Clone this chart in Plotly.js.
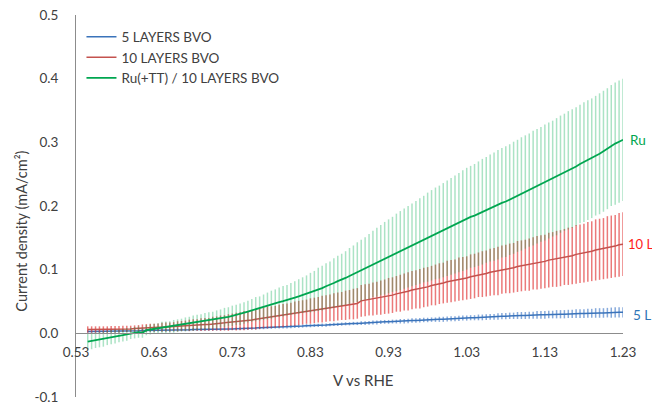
<!DOCTYPE html>
<html>
<head>
<meta charset="utf-8">
<script src="https://cdn.plot.ly/plotly-3.0.1.min.js"></script>
<style>html,body{margin:0;padding:0;background:#fff;overflow:hidden}</style>
</head>
<body>
<div id="chart" style="width:652px;height:405px"></div>
<script>
// Potential (V vs RHE)
const voltage = [
0.545,0.55,0.555,0.56,0.565,0.57,0.575,0.58,0.585,0.59,
0.595,0.6,0.605,0.61,0.615,0.62,0.625,0.63,0.635,0.64,
0.645,0.65,0.655,0.66,0.665,0.67,0.675,0.68,0.685,0.69,
0.695,0.7,0.705,0.71,0.715,0.72,0.725,0.73,0.735,0.74,
0.745,0.75,0.755,0.76,0.765,0.77,0.775,0.78,0.785,0.79,
0.795,0.8,0.805,0.81,0.815,0.82,0.825,0.83,0.835,0.84,
0.845,0.85,0.855,0.86,0.865,0.87,0.875,0.88,0.885,0.89,
0.895,0.9,0.905,0.91,0.915,0.92,0.925,0.93,0.935,0.94,
0.945,0.95,0.955,0.96,0.965,0.97,0.975,0.98,0.985,0.99,
0.995,1.0,1.005,1.01,1.015,1.02,1.025,1.03,1.035,1.04,
1.045,1.05,1.055,1.06,1.065,1.07,1.075,1.08,1.085,1.09,
1.095,1.1,1.105,1.11,1.115,1.12,1.125,1.13,1.135,1.14,
1.145,1.15,1.155,1.16,1.165,1.17,1.175,1.18,1.185,1.19,
1.195,1.2,1.205,1.21,1.215,1.22,1.225,1.23];

// 5 LAYERS BVO
const bvo5 = [
0.003,0.003,0.003,0.003,0.003,0.0035,0.0035,0.0035,0.0035,0.004,
0.004,0.004,0.004,0.004,0.0045,0.0045,0.0045,0.0045,0.005,0.005,
0.005,0.005,0.005,0.0055,0.0055,0.0055,0.0055,0.006,0.006,0.006,
0.006,0.006,0.0062,0.0064,0.0066,0.0068,0.007,0.007,0.0072,0.0074,
0.0075,0.0075,0.008,0.008,0.0085,0.0085,0.009,0.009,0.0095,0.0095,
0.010,0.010,0.0105,0.011,0.011,0.0115,0.012,0.012,0.0125,0.0125,
0.013,0.013,0.0135,0.014,0.014,0.0145,0.015,0.015,0.0155,0.0155,
0.016,0.016,0.0165,0.017,0.017,0.0175,0.018,0.018,0.0185,0.0185,
0.019,0.019,0.0195,0.020,0.020,0.0205,0.021,0.021,0.0215,0.0215,
0.022,0.022,0.0225,0.023,0.023,0.0235,0.024,0.024,0.0245,0.0245,
0.025,0.025,0.0255,0.026,0.026,0.0265,0.027,0.027,0.0275,0.0275,
0.028,0.028,0.028,0.0285,0.0285,0.029,0.029,0.029,0.0295,0.0295,
0.030,0.030,0.030,0.0305,0.0305,0.031,0.031,0.031,0.0315,0.0315,
0.032,0.032,0.032,0.0325,0.0325,0.033,0.033,0.033];
const bvo5Err = [
0.002,0.002,0.002,0.002,0.002,0.002,0.002,0.002,0.002,0.002,
0.002,0.002,0.002,0.002,0.002,0.002,0.002,0.002,0.002,0.002,
0.002,0.002,0.002,0.002,0.002,0.002,0.002,0.002,0.002,0.002,
0.002,0.002,0.002,0.002,0.002,0.002,0.002,0.002,0.002,0.002,
0.002,0.002,0.002,0.002,0.002,0.002,0.002,0.002,0.002,0.002,
0.0025,0.0025,0.0025,0.0025,0.0025,0.0025,0.0025,0.0025,0.0025,0.0025,
0.0025,0.0025,0.0025,0.0025,0.0025,0.0025,0.0025,0.0025,0.0025,0.0025,
0.003,0.003,0.003,0.003,0.003,0.003,0.003,0.003,0.003,0.003,
0.0035,0.0035,0.0035,0.0035,0.0035,0.0035,0.0035,0.0035,0.0035,0.0035,
0.004,0.004,0.004,0.004,0.004,0.004,0.004,0.004,0.004,0.004,
0.0045,0.0045,0.0045,0.0045,0.0045,0.005,0.005,0.005,0.005,0.005,
0.0055,0.0055,0.0055,0.0055,0.0055,0.006,0.006,0.006,0.006,0.006,
0.0065,0.0065,0.0065,0.0065,0.0065,0.007,0.007,0.007,0.007,0.007,
0.0075,0.0075,0.0075,0.0075,0.008,0.008,0.008,0.008];

// 10 LAYERS BVO
const bvo10 = [
0.006,0.006,0.006,0.006,0.006,0.006,0.0065,0.0065,0.0065,0.007,
0.007,0.007,0.0075,0.008,0.008,0.0085,0.009,0.009,0.0095,0.0095,
0.010,0.010,0.0105,0.011,0.0115,0.012,0.0125,0.013,0.013,0.0135,
0.014,0.014,0.015,0.0155,0.016,0.0165,0.017,0.018,0.0185,0.019,
0.020,0.0205,0.021,0.022,0.023,0.024,0.025,0.0255,0.026,0.027,
0.028,0.029,0.030,0.031,0.032,0.033,0.034,0.035,0.036,0.037,
0.038,0.039,0.040,0.041,0.042,0.043,0.044,0.045,0.046,0.047,
0.051,0.052,0.053,0.054,0.055,0.056,0.0575,0.059,0.060,0.062,
0.063,0.065,0.066,0.068,0.069,0.070,0.072,0.073,0.075,0.076,
0.078,0.079,0.081,0.082,0.083,0.085,0.086,0.087,0.089,0.090,
0.092,0.093,0.094,0.096,0.097,0.098,0.100,0.101,0.102,0.103,
0.105,0.106,0.107,0.108,0.110,0.111,0.112,0.113,0.115,0.116,
0.117,0.118,0.120,0.121,0.122,0.124,0.125,0.126,0.128,0.129,
0.131,0.132,0.133,0.135,0.136,0.137,0.139,0.140];
const bvo10Err = [
0.005,0.005,0.005,0.005,0.005,0.005,0.005,0.005,0.005,0.005,
0.005,0.005,0.005,0.005,0.006,0.006,0.006,0.006,0.006,0.007,
0.007,0.007,0.007,0.008,0.008,0.008,0.009,0.009,0.009,0.010,
0.010,0.010,0.011,0.011,0.012,0.012,0.013,0.013,0.014,0.014,
0.015,0.015,0.015,0.016,0.016,0.016,0.017,0.017,0.017,0.018,
0.018,0.018,0.018,0.019,0.019,0.019,0.019,0.020,0.020,0.020,
0.021,0.021,0.021,0.022,0.022,0.022,0.023,0.023,0.024,0.024,
0.025,0.025,0.025,0.026,0.026,0.027,0.027,0.028,0.028,0.028,
0.029,0.029,0.030,0.030,0.030,0.031,0.031,0.031,0.031,0.032,
0.032,0.032,0.033,0.033,0.033,0.034,0.034,0.034,0.035,0.035,
0.035,0.036,0.036,0.037,0.037,0.038,0.038,0.038,0.039,0.039,
0.040,0.040,0.040,0.041,0.041,0.042,0.042,0.042,0.043,0.043,
0.044,0.044,0.044,0.045,0.045,0.046,0.046,0.046,0.047,0.047,
0.048,0.048,0.048,0.049,0.049,0.049,0.050,0.050];

// Ru(+TT) / 10 LAYERS BVO
const ruBvo10 = [
-0.013,-0.012,-0.011,-0.010,-0.009,-0.0075,-0.006,-0.005,-0.004,-0.003,
-0.0015,0.000,0.001,0.002,0.001,0.005,0.006,0.007,0.008,0.009,
0.0095,0.010,0.011,0.012,0.013,0.014,0.015,0.016,0.017,0.018,
0.019,0.020,0.021,0.022,0.0235,0.025,0.026,0.0275,0.029,0.030,
0.032,0.034,0.036,0.038,0.039,0.041,0.043,0.045,0.047,0.049,
0.0505,0.052,0.054,0.056,0.058,0.060,0.062,0.064,0.066,0.069,
0.071,0.074,0.076,0.079,0.082,0.084,0.087,0.090,0.093,0.096,
0.099,0.102,0.105,0.109,0.112,0.115,0.118,0.121,0.124,0.127,
0.130,0.133,0.136,0.139,0.142,0.145,0.148,0.151,0.154,0.157,
0.159,0.162,0.165,0.168,0.171,0.174,0.177,0.180,0.183,0.185,
0.188,0.191,0.194,0.197,0.199,0.202,0.205,0.207,0.210,0.213,
0.216,0.219,0.222,0.225,0.228,0.231,0.234,0.237,0.240,0.243,
0.246,0.250,0.253,0.256,0.259,0.262,0.266,0.269,0.272,0.275,
0.279,0.282,0.286,0.290,0.295,0.298,0.301,0.304];
const ruBvo10Err = [
0.013,0.013,0.012,0.012,0.012,0.011,0.011,0.011,0.010,0.010,
0.010,0.009,0.009,0.009,0.008,0.008,0.008,0.008,0.008,0.009,
0.009,0.009,0.010,0.010,0.010,0.011,0.011,0.012,0.012,0.012,
0.013,0.013,0.013,0.014,0.014,0.015,0.015,0.016,0.016,0.017,
0.017,0.017,0.018,0.019,0.019,0.020,0.021,0.022,0.022,0.023,
0.024,0.024,0.025,0.026,0.027,0.028,0.029,0.031,0.032,0.034,
0.035,0.036,0.037,0.039,0.040,0.041,0.042,0.044,0.045,0.047,
0.048,0.049,0.051,0.052,0.054,0.055,0.057,0.058,0.059,0.061,
0.062,0.063,0.064,0.065,0.066,0.067,0.068,0.070,0.071,0.072,
0.073,0.074,0.075,0.076,0.077,0.078,0.079,0.080,0.080,0.081,
0.082,0.083,0.083,0.084,0.085,0.086,0.086,0.087,0.087,0.088,
0.088,0.089,0.089,0.089,0.090,0.090,0.090,0.091,0.091,0.091,
0.092,0.092,0.092,0.093,0.093,0.093,0.093,0.094,0.094,0.094,
0.094,0.095,0.095,0.095,0.095,0.096,0.096,0.096];

const seriesNames = ['5 LAYERS BVO', '10 LAYERS BVO', 'Ru(+TT) / 10 LAYERS BVO'];
const endLabels = ['5 L', '10 L', 'Ru'];
const xTicks = [0.53, 0.63, 0.73, 0.83, 0.93, 1.03, 1.13, 1.23];
const xTickText = ['0.53', '0.63', '0.73', '0.83', '0.93', '1.03', '1.13', '1.23'];
const yTicks = [-0.1, 0.0, 0.1, 0.2, 0.3, 0.4, 0.5];
const yTickText = ['-0.1', '0.0', '0.1', '0.2', '0.3', '0.4', '0.5'];

const FONT = 'Lato, "Open Sans", "DejaVu Sans", sans-serif';
const lineColors = ['#3a73ba', '#c4524e', '#00a650'];
const errColors = ['rgba(70,125,200,0.65)', 'rgba(222,40,40,0.62)', 'rgba(0,170,80,0.33)'];
const labelColors = ['#2e75b6', '#ff1a1a', '#00a650'];
const ys = [bvo5, bvo10, ruBvo10];
const errs = [bvo5Err, bvo10Err, ruBvo10Err];

const traces = ys.map((y, i) => ({
  type: 'scatter', mode: 'lines',
  x: voltage, y: y, name: seriesNames[i],
  line: {color: lineColors[i], width: i === 2 ? 1.8 : 1.5},
  error_y: {type: 'data', array: errs[i], visible: true, color: errColors[i], thickness: 1.5, width: 0}
}));

const n = voltage.length - 1;
const annotations = [
  {text: 'V vs RHE', xref: 'paper', yref: 'paper', x: 0.5265, y: 0.045, xanchor: 'center', yanchor: 'middle', showarrow: false, font: {family: FONT, size: 15, color: '#404040'}},
  {text: 'Current density (mA/cm²)', xref: 'paper', yref: 'paper', x: -0.099, y: 0.435, xanchor: 'center', yanchor: 'middle', textangle: -90, showarrow: false, font: {family: FONT, size: 14.5, color: '#404040'}}
];
const shifts = [[8, -3], [3, 0], [5, 0]];
const labelSizes = [13.5, 13, 13.5];
ys.forEach((y, i) => {
  annotations.push({text: endLabels[i], x: voltage[n], y: y[n], xref: 'x', yref: 'y', xanchor: 'left', yanchor: 'middle', xshift: shifts[i][0], yshift: shifts[i][1], showarrow: false, font: {family: FONT, size: labelSizes[i], color: labelColors[i]}});
});

const layout = {
  width: 652, height: 405,
  margin: {l: 76, r: 29, t: 15, b: 8, pad: 0},
  paper_bgcolor: '#ffffff', plot_bgcolor: '#ffffff',
  font: {family: FONT, size: 13.5, color: '#404040'},
  showlegend: true,
  legend: {x: 0.01, y: 0.983, xanchor: 'left', yanchor: 'top', bgcolor: 'rgba(0,0,0,0)', font: {family: FONT, size: 13.5, color: '#404040'}, tracegroupgap: 0},
  xaxis: {range: [0.53, 1.23], tickvals: xTicks, ticktext: xTickText, showgrid: false, zeroline: false, showline: true, linecolor: '#8c8c8c', linewidth: 1, ticks: '', anchor: 'free', position: 1/6, ticklabelstandoff: 6, ticklabeloverflow: 'allow'},
  yaxis: {range: [-0.1, 0.5], tickvals: yTicks, ticktext: yTickText, showgrid: false, zeroline: false, showline: true, linecolor: '#8c8c8c', linewidth: 1, ticks: '', ticklabelstandoff: 14, ticklabeloverflow: 'allow'},
  annotations: annotations
};

Plotly.newPlot('chart', traces, layout, {displayModeBar: false, staticPlot: true});
</script>
</body>
</html>
